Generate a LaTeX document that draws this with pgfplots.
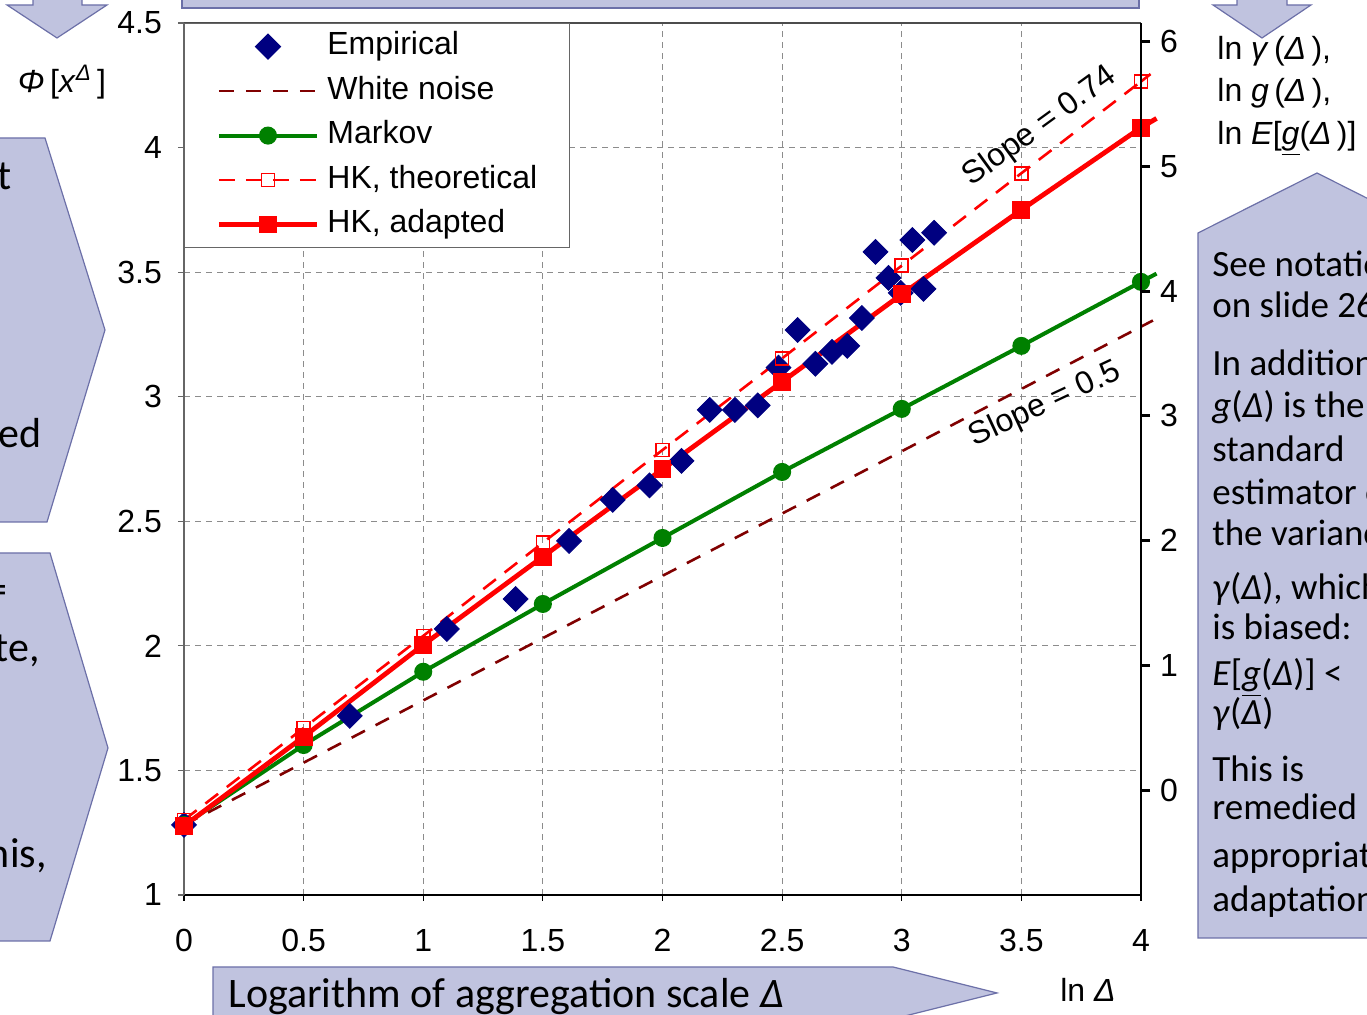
\documentclass[border=0pt]{standalone}
\usepackage{pgfplots}
\pgfplotsset{compat=1.18}
\usepackage{fontspec}
\setmainfont{Liberation Sans}
\newfontfamily\calibri{Carlito}
\definecolor{navy}{RGB}{0,0,128}
\definecolor{mgreen}{RGB}{0,128,0}
\definecolor{wnred}{RGB}{128,0,0}
\definecolor{boxfill}{RGB}{192,195,223}
\definecolor{boxdraw}{RGB}{108,112,168}
\definecolor{gridgray}{RGB}{140,140,140}
\newcommand{\arf}{\fontsize{16pt}{19pt}\selectfont}
\newcommand{\calf}{\calibri\fontsize{18.5pt}{21pt}\selectfont}
\newcommand{\calL}{\calibri\fontsize{21pt}{23pt}\selectfont}
\pgfplotsset{myleg/.style={legend image code/.code={\draw[##1, mark repeat=2, mark phase=2] plot coordinates {(0pt,0pt) (24.5pt,0pt) (49pt,0pt)};}}}
\begin{document}
\begin{tikzpicture}
\path[use as bounding box] (0pt,0pt) rectangle (683.5pt,507.5pt);
\begin{scope}[x=0.5pt,y=-0.5pt,shift={(0pt,507.5pt)}]
\tikzset{deco/.style={fill=boxfill, draw=boxdraw, line width=0.6pt}}
\path[deco] (182,-10) rectangle (1139,8);
\path[deco] (33,-10) -- (33,5) -- (7,5) -- (57,38) -- (107,5) -- (82,5) -- (82,-10) -- cycle;
\path[deco] (-60,138) -- (45,138) -- (105,330) -- (47,522) -- (-60,522) -- cycle;
\path[deco] (-60,553) -- (50,553) -- (108,748) -- (50,941) -- (-60,941) -- cycle;
\path[deco] (1237,-10) -- (1237,5) -- (1213,5) -- (1262,38) -- (1311,5) -- (1287,5) -- (1287,-10) -- cycle;
\path[deco] (1198,233) -- (1317,173) -- (1436,233) -- (1436,938) -- (1198,938) -- cycle;
\path[deco] (213,967) -- (893,967) -- (997,993) -- (893,1019) -- (213,1019) -- cycle;
% left panel texts (cut off)
\node[anchor=base east, inner sep=0pt, font=\calL] at (12,190) {that};
\node[anchor=base east, inner sep=0pt, font=\calL] at (42,448) {used};
\node[anchor=base east, inner sep=0pt, font=\calL] at (8,604) {=};
\node[anchor=base east, inner sep=0pt, font=\calL] at (40,662) {state,};
\node[anchor=base east, inner sep=0pt, font=\calL] at (47,868) {this,};
% right panel texts
\tikzset{rt/.style={anchor=base west, inner sep=0pt, font=\calf}}
\node[rt] at (1212,277) {See notation};
\node[rt] at (1212,318) {on slide 26};
\node[rt] at (1212,376) {In addition,};
\node[rt] at (1212,418) {\textit{g}(\textit{Δ}) is the};
\node[rt] at (1212,462) {standard};
\node[rt] at (1212,505) {estimator of};
\node[rt] at (1212,546) {the variance};
\node[rt] at (1212,600) {\textit{γ}(\textit{Δ}), which};
\node[rt] at (1212,640) {is biased:};
\node[rt] at (1212,686) {\textit{E}[\underline{\textit{g}}(\textit{Δ})] <};
\node[rt] at (1212,725) {\textit{γ}(\textit{Δ})};
\node[rt] at (1212,782) {This is};
\node[rt] at (1212,820) {remedied by};
\node[rt] at (1212,868) {appropriate};
\node[rt] at (1212,912) {adaptation.};
% bottom arrow text
\node[anchor=base west, inner sep=0pt, font=\calL] at (228,1008) {Logarithm of aggregation scale \textit{Δ}};
% axis titles
\node[font=\arf, inner sep=0pt] at (62,82) {\textit{Φ}\,[\textit{x}\textsuperscript{\textit{Δ}}\,]};
\node[font=\arf, inner sep=0pt] at (1088,990) {ln \textit{Δ}};
\tikzset{rl/.style={anchor=base west, inner sep=0pt, font=\arf}}
\node[rl] at (1217,60) {ln \textit{γ}\,(\textit{Δ}\,),};
\node[rl] at (1217,102) {ln \textit{g}\,(\textit{Δ}\,),};
\node[rl] at (1217,145) {ln \textit{E}[\underline{\textit{g}}(\textit{Δ}\,)]};
\end{scope}

\begin{axis}[
  at={(92pt,60pt)}, anchor=south west, scale only axis,
  width=478.5pt, height=436pt,
  xmin=0, xmax=4, ymin=1, ymax=4.5,
  clip=false,
  axis x line*=bottom, axis y line*=left,
  x axis line style={black, line width=0.8pt, -},
  y axis line style={black!60, line width=0.6pt, -},
  xtick={0,0.5,...,4}, ytick={1,1.5,...,4.5},
  tick align=outside, major tick length=3pt,
  xtick style={black, line width=0.6pt},
  ytick style={black!60, line width=0.6pt},
  grid=major,
  major grid style={gridgray, line width=0.5pt, dash pattern=on 3pt off 2.5pt},
  tick label style={font=\arf},
  /pgf/number format/assume math mode=true,
  xticklabel style={yshift=-10.5pt},
  yticklabel style={xshift=-4.5pt},
  legend style={at={(0,1)}, anchor=north west, draw=black!60, line width=0.6pt, fill=white, font=\arf,
    inner xsep=16pt, inner ysep=4pt, row sep=7.25pt, column sep=4pt,
    nodes={inner sep=0pt, text height=11.5pt, text depth=3.5pt}},
  legend cell align=left,
]
\draw[black!70, line width=0.6pt] (rel axis cs:0,1) -- (rel axis cs:1,1);
\addplot[only marks, color=navy, mark=square*, mark size=4.4pt, mark options={rotate=45}, myleg] coordinates {
(0,1.281) (0.6931,1.719) (1.0986,2.068) (1.3863,2.188) (1.6094,2.421) (1.7918,2.586)
(1.9459,2.644) (2.0794,2.742) (2.1972,2.947) (2.3026,2.947) (2.3979,2.965) (2.4849,3.117)
(2.5649,3.268) (2.6391,3.132) (2.7081,3.180) (2.7726,3.204) (2.8332,3.316) (2.8904,3.581)
(2.9444,3.477) (2.9957,3.417) (3.0445,3.629) (3.0910,3.433) (3.1355,3.658)
};
\addlegendentry{Empirical}
\addplot[wnred, line width=1.3pt, dash pattern=on 7.5pt off 6pt, mark=none, myleg] coordinates {
(0,1.281) (0.5,1.531) (1,1.781) (1.5,2.031) (2,2.281) (2.5,2.531) (3,2.781) (3.5,3.031) (4,3.281)
};
\addlegendentry{White noise}
\addplot[mgreen, line width=2pt, mark=*, mark size=3.5pt, myleg] coordinates {
(0,1.281) (0.5,1.602) (1,1.896) (1.5,2.168) (2,2.433) (2.5,2.698) (3,2.951) (3.5,3.204) (4,3.461)
};
\addlegendentry{Markov}
\addplot[red, line width=1.3pt, dash pattern=on 8pt off 5.5pt, mark=square, mark size=3.25pt, mark options={solid, fill=white, line width=0.8pt}, myleg] coordinates {
(0,1.301) (0.5,1.670) (1,2.040) (1.5,2.414) (2,2.786) (2.5,3.154) (3,3.526) (3.5,3.897) (4,4.265)
};
\addlegendentry{HK, theoretical}
\addplot[red, line width=2.4pt, mark=square*, mark size=3.25pt, myleg] coordinates {
(0,1.277) (0.5,1.635) (1,2.004) (1.5,2.358) (2,2.709) (2.5,3.060) (3,3.411) (3.5,3.750) (4,4.080)
};
\addlegendentry{HK, adapted}
% continuation of lines beyond the right axis
\addplot[wnred, line width=1.3pt, forget plot] coordinates {(4,3.281) (4.05,3.306)};
\addplot[mgreen, line width=2pt, forget plot] coordinates {(4,3.461) (4.065,3.494)};
\addplot[red, line width=1.3pt, forget plot] coordinates {(4,4.265) (4.04,4.295)};
\addplot[red, line width=2.4pt, forget plot] coordinates {(4,4.080) (4.065,4.117)};
\node[rotate=36, font=\arf] at (axis cs:3.578,4.083) {Slope = 0.74};
\node[rotate=25, font=\arf] at (axis cs:3.599,2.967) {Slope = 0.5};
\end{axis}

\begin{axis}[
  at={(92pt,60pt)}, anchor=south west, scale only axis,
  width=478.5pt, height=436pt,
  xmin=0, xmax=4, ymin=-0.842, ymax=6.152,
  axis x line=none, axis y line*=right,
  y axis line style={black, line width=1pt, -},
  ytick={0,1,...,6},
  tick align=outside, major tick length=4.5pt,
  ytick style={black, line width=1.5pt},
  tick label style={font=\arf},
  /pgf/number format/assume math mode=true,
  yticklabel style={xshift=1.5pt},
]
\addplot[draw=none] coordinates {(0,0)};
\end{axis}
\end{tikzpicture}
\end{document}
